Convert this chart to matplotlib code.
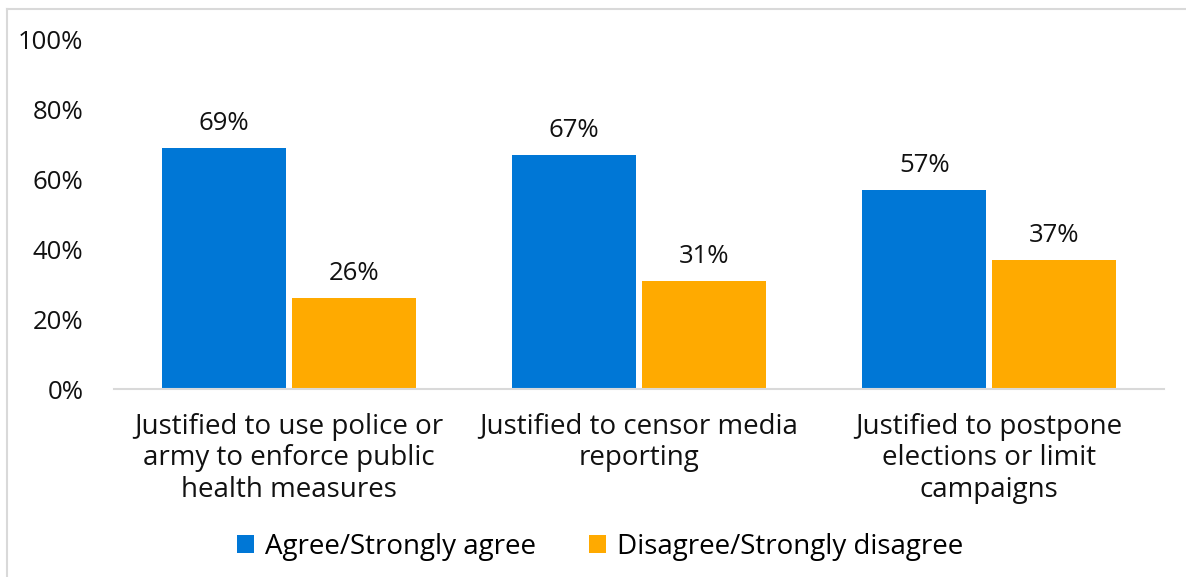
import numpy as np
import matplotlib.pyplot as plt
from matplotlib.lines import Line2D
from matplotlib.ticker import FuncFormatter

plt.rcParams['font.family'] = ['Open Sans', 'DejaVu Sans']

# data
categories = ['Justified to use police or\narmy to enforce public\nhealth measures',
              'Justified to censor media\nreporting',
              'Justified to postpone\nelections or limit\ncampaigns']
agree = [69, 67, 57]
disagree = [26, 31, 37]
series_names = ['Agree/Strongly agree', 'Disagree/Strongly disagree']
colors = ['#0077D6', '#FFAA00']

fs_text = 20
fs_num = 18.5

fig = plt.figure(figsize=(11.86, 5.77), dpi=100)
ax = fig.add_axes([0.0961, 0.3258, 0.8854, 0.6049])

x = np.arange(len(categories))
w = 0.354
off = 0.185
b1 = ax.bar(x - off, agree, w, color=colors[0], label=series_names[0])
b2 = ax.bar(x + off, disagree, w, color=colors[1], label=series_names[1])

for bars, vals in ((b1, agree), (b2, disagree)):
    for rect, v in zip(bars, vals):
        ax.text(rect.get_x() + rect.get_width() / 2, v + 3.5, '%d%%' % v,
                ha='center', va='bottom', fontsize=fs_num, color='#111111')

ax.set_xlim(-0.5, 2.5)
ax.set_ylim(0, 100)
ax.set_yticks(np.arange(0, 101, 20))
ax.yaxis.set_major_formatter(FuncFormatter(lambda v, p: '%d%%' % v))
ax.set_xticks(x)
ax.set_xticklabels(categories, fontsize=fs_text, linespacing=1.18)
ax.tick_params(axis='both', length=0, colors='#111111')
ax.tick_params(axis='x', pad=17)
ax.tick_params(axis='y', pad=22, labelsize=fs_num)

for s in ('top', 'right', 'left'):
    ax.spines[s].set_visible(False)
ax.spines['bottom'].set_color('#D9D9D9')
ax.spines['bottom'].set_linewidth(1.5)

fig.legend(loc='center', bbox_to_anchor=(0.506, 0.052), ncol=2, frameon=False,
           fontsize=fs_text, handlelength=0.6, handleheight=0.6, handletextpad=0.4,
           columnspacing=1.9)

# outer frame, top and left edges
fig.add_artist(Line2D([0.0055, 1.0], [1 - 8.5 / 577, 1 - 8.5 / 577], color='#D9D9D9', lw=1.5))
fig.add_artist(Line2D([6.5 / 1186, 6.5 / 1186], [0, 1 - 8.5 / 577], color='#D9D9D9', lw=1.5))

fig.savefig('out.png', dpi=100)
